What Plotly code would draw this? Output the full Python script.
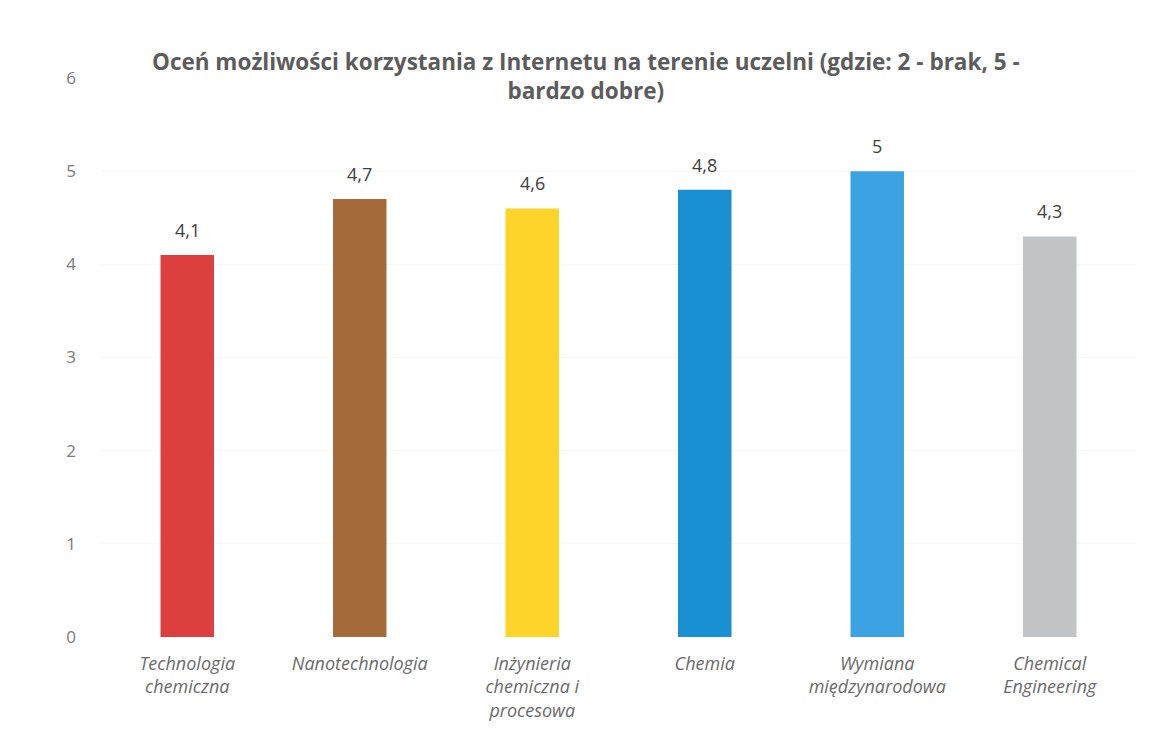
import plotly.graph_objects as go

categories = [
    "Technologia<br>chemiczna",
    "Nanotechnologia",
    "Inżynieria<br>chemiczna i<br>procesowa",
    "Chemia",
    "Wymiana<br>międzynarodowa",
    "Chemical<br>Engineering",
]
scores = [4.1, 4.7, 4.6, 4.8, 5, 4.3]
score_labels = ["4,1", "4,7", "4,6", "4,8", "5", "4,3"]
bar_colors = ["#dc3f3e", "#a56a3a", "#fdd42a", "#1a8fd2", "#3ca3e3", "#c1c4c6"]

FONT = "Open Sans, Lato, sans-serif"

fig = go.Figure(
    go.Bar(
        x=categories,
        y=scores,
        marker=dict(color=bar_colors, line=dict(width=0)),
        width=0.31,
        hoverinfo="x+y",
    )
)

# value labels placed just above each bar
for cat, val, lab in zip(categories, scores, score_labels):
    fig.add_annotation(
        x=cat,
        y=val,
        text=lab,
        showarrow=False,
        yanchor="bottom",
        yshift=11,
        font=dict(family=FONT, size=18, color="#404040"),
    )

fig.update_layout(
    width=1160,
    height=736,
    paper_bgcolor="white",
    plot_bgcolor="white",
    margin=dict(l=101, r=24, t=78, b=99),
    showlegend=False,
    title=dict(
        text="<b>Oceń możliwości korzystania z Internetu na terenie uczelni (gdzie: 2 - brak, 5 -<br>bardzo dobre)</b>",
        x=0.505,
        xanchor="center",
        y=0.905,
        yanchor="middle",
        font=dict(family=FONT, size=22.5, color="#5c5c5c"),
    ),
    xaxis=dict(
        showgrid=False,
        showline=False,
        ticks="",
        ticklabelstandoff=14,
        tickfont=dict(family=FONT, size=18, color="#6a6a6a", style="italic"),
    ),
    yaxis=dict(
        range=[0, 6],
        dtick=1,
        showgrid=True,
        gridcolor="#f7f7f7",
        zeroline=False,
        showline=False,
        ticks="",
        ticklabelstandoff=24,
        tickfont=dict(family=FONT, size=17, color="#7a7a7a"),
    ),
)

fig.write_html("out.html")
